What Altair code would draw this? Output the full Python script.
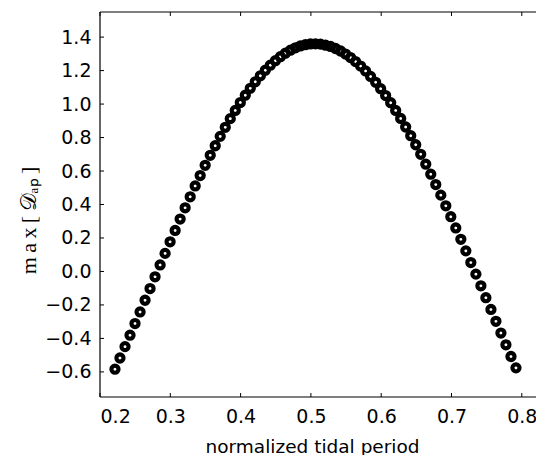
import altair as alt
import pandas as pd

# ---- data ----
x_vals = [0.2213, 0.2284, 0.2356, 0.2427, 0.2498, 0.2570, 0.2641, 0.2712, 0.2783, 0.2855,
          0.2926, 0.2997, 0.3069, 0.3140, 0.3211, 0.3283, 0.3354, 0.3425, 0.3496, 0.3568,
          0.3639, 0.3710, 0.3782, 0.3853, 0.3924, 0.3996, 0.4067, 0.4138, 0.4209, 0.4281,
          0.4352, 0.4423, 0.4495, 0.4566, 0.4637, 0.4709, 0.4780, 0.4851, 0.4922, 0.4994,
          0.5065, 0.5136, 0.5208, 0.5279, 0.5350, 0.5422, 0.5493, 0.5564, 0.5635, 0.5707,
          0.5778, 0.5849, 0.5921, 0.5992, 0.6063, 0.6135, 0.6206, 0.6277, 0.6348, 0.6420,
          0.6491, 0.6562, 0.6634, 0.6705, 0.6776, 0.6848, 0.6919, 0.6990, 0.7061, 0.7133,
          0.7204, 0.7275, 0.7347, 0.7418, 0.7489, 0.7561, 0.7632, 0.7703, 0.7774, 0.7846,
          0.7917]
y_vals = [-0.584, -0.517, -0.449, -0.381, -0.311, -0.242, -0.172, -0.102, -0.032, 0.039,
          0.108, 0.177, 0.245, 0.313, 0.380, 0.446, 0.511, 0.573, 0.634, 0.694,
          0.751, 0.807, 0.861, 0.913, 0.962, 1.009, 1.053, 1.094, 1.133, 1.169,
          1.202, 1.232, 1.259, 1.283, 1.304, 1.322, 1.336, 1.347, 1.355, 1.359,
          1.360, 1.358, 1.352, 1.344, 1.332, 1.317, 1.299, 1.278, 1.254, 1.227,
          1.198, 1.165, 1.130, 1.092, 1.051, 1.008, 0.962, 0.914, 0.863, 0.811,
          0.757, 0.700, 0.641, 0.581, 0.519, 0.456, 0.392, 0.327, 0.260, 0.192,
          0.123, 0.053, -0.016, -0.086, -0.157, -0.227, -0.298, -0.368, -0.438, -0.508,
          -0.576]
x_ticks = [0.2, 0.3, 0.4, 0.5, 0.6, 0.7, 0.8]
y_ticks = [-0.6, -0.4, -0.2, 0.0, 0.2, 0.4, 0.6, 0.8, 1.0, 1.2, 1.4]

X_DOMAIN = [0.2, 0.8202]
Y_DOMAIN = [-0.75, 1.55]

W, H = 436, 385
FONT = "DejaVu Sans"

df = pd.DataFrame({"x": x_vals, "y": y_vals})
df_xt = pd.DataFrame({"tx": x_ticks})
df_yt = pd.DataFrame({"ty": y_ticks})
df_one = pd.DataFrame({"k": [0]})

xs = alt.Scale(domain=X_DOMAIN, nice=False, zero=False)
ys = alt.Scale(domain=Y_DOMAIN, nice=False, zero=False)

points = alt.Chart(df).mark_point(
    shape="circle", filled=False, size=50, strokeWidth=4.2, color="black", opacity=1
).encode(
    x=alt.X("x:Q", scale=xs, axis=alt.Axis(
        values=x_ticks, format=".1f", title="normalized tidal period",
        tickSize=0, domain=False, grid=False,
        labelFont=FONT, labelFontSize=19, labelColor="black", labelPadding=10,
        titleFont=FONT, titleFontSize=18.5, titleFontWeight="normal", titleColor="black",
        titleX=212, titleY=49, titleAlign="center", titleBaseline="middle")),
    y=alt.Y("y:Q", scale=ys, axis=alt.Axis(
        values=y_ticks, format=".1f", title="m\u2009a\u2009x\u2009[\u2009𝒟ₐₚ\u2009]",
        tickSize=0, domain=False, grid=False,
        labelFont=FONT, labelFontSize=19, labelColor="black", labelPadding=9,
        titleFont="Liberation Serif", titleFontSize=22, titleFontWeight="normal",
        titleColor="black", titleAngle=270,
        titleX=-72, titleY=208, titleAlign="center", titleBaseline="middle")),
)

tick_len = 4
bottom_ticks = alt.Chart(df_xt).mark_rule(color="black", strokeWidth=1).encode(
    x=alt.X("tx:Q", scale=xs, axis=None), y=alt.value(H), y2=alt.value(H - tick_len))
top_ticks = alt.Chart(df_xt).mark_rule(color="black", strokeWidth=1).encode(
    x=alt.X("tx:Q", scale=xs, axis=None), y=alt.value(0), y2=alt.value(tick_len))
left_ticks = alt.Chart(df_yt).mark_rule(color="black", strokeWidth=1).encode(
    y=alt.Y("ty:Q", scale=ys, axis=None), x=alt.value(0), x2=alt.value(tick_len))

top_spine = alt.Chart(df_one).mark_rule(color="black", strokeWidth=1.2).encode(
    x=alt.value(0), x2=alt.value(W), y=alt.value(0))
bottom_spine = alt.Chart(df_one).mark_rule(color="black", strokeWidth=1.2).encode(
    x=alt.value(0), x2=alt.value(W), y=alt.value(H))
left_spine = alt.Chart(df_one).mark_rule(color="black", strokeWidth=1.2).encode(
    x=alt.value(0), y=alt.value(0), y2=alt.value(H))

chart = alt.layer(
    points, bottom_ticks, top_ticks, left_ticks, top_spine, bottom_spine, left_spine
).resolve_axis(
    x="independent", y="independent"
).properties(
    width=W, height=H,
    autosize=alt.AutoSizeParams(type="none"),
    padding={"left": 100, "top": 12, "right": 0, "bottom": 58},
).configure_view(stroke=None)

chart.save("out.html", embed_options={"renderer": "svg", "actions": False})
